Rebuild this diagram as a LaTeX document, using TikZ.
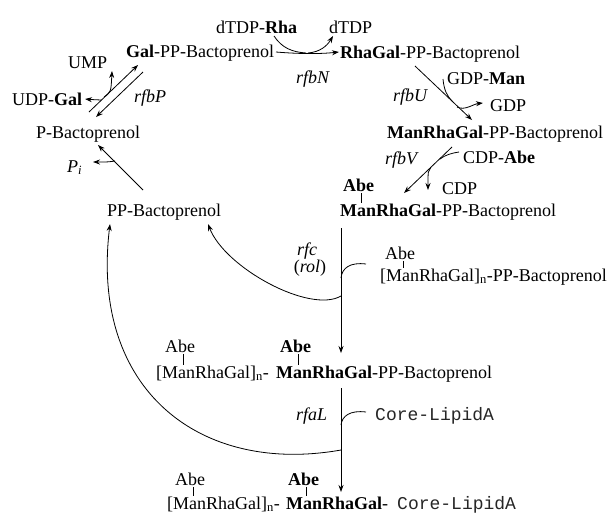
\documentclass[tikz,border=0pt]{standalone}
\usepackage{fontspec}
\setmainfont{Liberation Serif}
\newfontfamily\serf{Liberation Serif}
\newfontfamily\monof{Liberation Mono}
\usetikzlibrary{arrows.meta}
\begin{document}
\begin{tikzpicture}[x=1pt,y=-1pt,
  lbl/.style={inner sep=0pt,anchor=base west,font=\serf\fontsize{18}{20}\selectfont},
  enz/.style={inner sep=0pt,anchor=base west,font=\serf\fontsize{18}{20}\selectfont\itshape},
  mono/.style={inner sep=0pt,anchor=base west,text=black!85,font=\monof\fontsize{18}{20}\selectfont},
  arr/.style={line width=0.8pt,-{Stealth[length=7pt,width=5pt]}},
  ln/.style={line width=0.8pt},
  tick/.style={line width=0.6pt}]
\useasboundingbox[fill=white] (0,0) rectangle (607,515);

% ---------- nodes ----------
\node[lbl] (dtdprha) at (216,33) {dTDP-\textbf{Rha}};
\node[lbl] (dtdp) at (329,33) {dTDP};
\node[lbl] (galpp) at (126,57) {\textbf{Gal}-PP-Bactoprenol};
\node[lbl] (rhagal) at (340,58) {\textbf{RhaGal}-PP-Bactoprenol};
\node[lbl] (ump) at (68,68) {UMP};
\node[enz] (rfbn) at (296,83) {rfbN};
\node[lbl] (gdpman) at (447,84) {GDP-\textbf{Man}};
\node[enz] (rfbp) at (134,102) {rfbP};
\node[enz] (rfbu) at (393,101) {rfbU};
\node[lbl] (udpgal) at (12,105) {UDP-\textbf{Gal}};
\node[lbl] (gdp) at (490,111) {GDP};
\node[lbl] (pbact) at (36,138) {P-Bactoprenol};
\node[lbl] (mrg1) at (387,138) {\textbf{ManRhaGal}-PP-Bactoprenol};
\node[enz] (rfbv) at (385,164) {rfbV};
\node[lbl] (cdpabe) at (463,163) {CDP-\textbf{Abe}};
\node[lbl] (pi) at (67,172) {\textit{P}\textsubscript{\textit{i}}};
\node[lbl] (abe1) at (343,191) {\textbf{Abe}};
\node[lbl] (cdp) at (442,194) {CDP};
\node[lbl] (ppbact) at (107,216) {PP-Bactoprenol};
\node[lbl] (mrg2) at (340,216) {\textbf{ManRhaGal}-PP-Bactoprenol};
\node[enz,anchor=base] (rfc) at (307,255) {rfc};
\node[lbl,anchor=base] (rol) at (310,272) {(\textit{rol})};
\node[lbl] (abe2) at (385,259) {Abe};
\node[lbl] (poly1) at (380,281) {[ManRhaGal]\textsubscript{n}-PP-Bactoprenol};
\node[lbl] (abe3) at (165,352) {Abe};
\node[lbl] (abe4) at (280,352) {\textbf{Abe}};
\node[lbl] (polyn1) at (156,378) {[ManRhaGal]\textsubscript{n}-};
\node[lbl] (mrg3) at (276,378) {\textbf{ManRhaGal}-PP-Bactoprenol};
\node[enz] (rfal) at (296,420) {rfaL};
\node[mono] (core1) at (375,420) {Core-LipidA};
\node[lbl] (abe5) at (175,485) {Abe};
\node[lbl] (abe6) at (288,485) {\textbf{Abe}};
\node[lbl] (polyn2) at (167,509) {[ManRhaGal]\textsubscript{n}-};
\node[lbl] (mrg4) at (286,509) {\textbf{ManRhaGal}-};
\node[mono] (core2) at (397,509) {Core-LipidA};

% ---------- Abe ticks ----------
\foreach \a/\b in {abe1/mrg2,abe2/poly1,abe3/polyn1,abe4/mrg3,abe5/polyn2,abe6/mrg4}{
  \draw[tick] ([shift={(3pt,-1.5pt)}]\a.south) -- ([xshift=3pt]\a.south |- \b.north);
}

% ---------- rfbP (double arrow) ----------
\coordinate (pA) at (89,112);
\coordinate (gA) at (138,65);
\coordinate (gB) at (143,72);
\coordinate (pB) at (96,117);
\draw[arr] (pA) -- (gA);
\draw[arr] (gB) -- (pB);
\coordinate (umpj) at (104,97);
\coordinate (umpt) at (112,71);
\draw[arr] (umpj) .. controls (111,92) .. (umpt);
\coordinate (udpj) at (101,100);
\coordinate (udpt) at (85,99);
\draw[arr] (udpj) .. controls (95,100) .. (udpt);

% ---------- rfbN ----------
\coordinate (nA) at (276,52);
\coordinate (nB) at (339,52);
\draw[arr] (nA) .. controls (300,54) and (320,54) .. (nB);
\coordinate (rhaS) at (274,36);
\draw[ln] (rhaS) .. controls (282,48) and (292,52) .. (306,53);
\coordinate (dtdpT) at (333,36);
\draw[arr] (308,53) .. controls (320,52) and (327,46) .. (dtdpT);

% ---------- rfbU ----------
\coordinate (uA) at (415,66);
\coordinate (uB) at (472,120);
\draw[arr] (uA) -- (uB);
\draw[ln] (443,79) .. controls (444,90) and (447,96) .. (452,101);
\draw[arr] (457,107) .. controls (465,111) and (473,104) .. (483,103);

% ---------- rfbV ----------
\coordinate (vA) at (452,147);
\coordinate (vB) at (404,193);
\draw[arr] (vA) -- (vB);
\draw[ln] (459,152) .. controls (452,153) and (445,155) .. (440,159);
\draw[arr] (431,167) .. controls (428,171) .. (428,190);

% ---------- Pi ----------
\coordinate (piA) at (143,190);
\coordinate (piB) at (98,145);
\draw[arr] (piA) -- (piB);
\draw[arr] (115,161) .. controls (108,162) .. (93,162);

% ---------- rfc (rol) ----------
\coordinate (c1) at (341,228);
\coordinate (c2) at (341,353);
\draw[arr] (c1) -- (c2);
\draw[ln] (366,264) .. controls (350,262) and (342,268) .. (341,278);
\draw[arr] (341,296) .. controls (310,314) and (225,268) .. (208,224);

% ---------- rfaL ----------
\coordinate (l1) at (341,388);
\coordinate (l2) at (341,492);
\draw[arr] (l1) -- (l2);
\draw[ln] (366,412) .. controls (350,410) and (342,416) .. (341,425);
\draw[arr] (341,450) .. controls (200,475) and (90,390) .. (110,224);
\end{tikzpicture}
\end{document}
